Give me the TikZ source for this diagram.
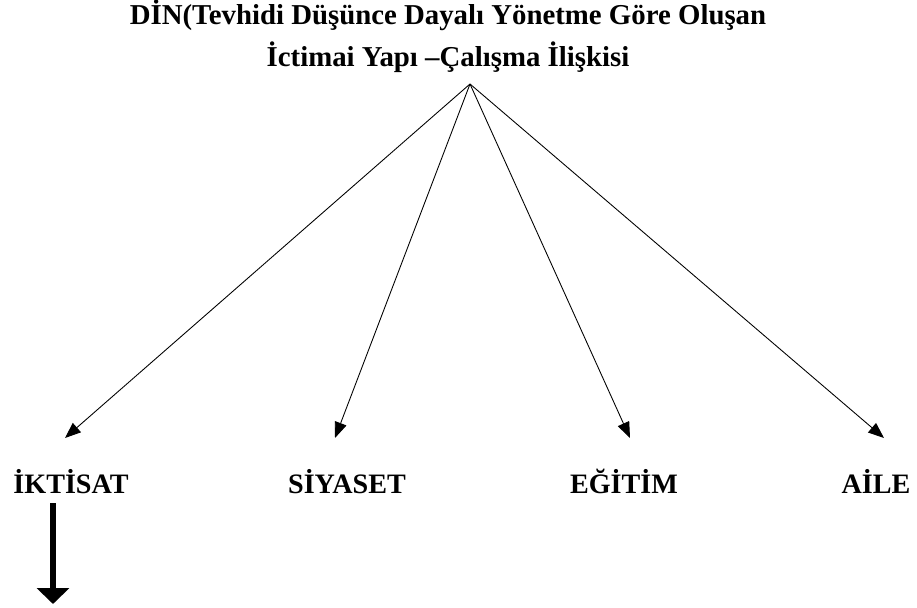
\documentclass[tikz,border=0pt]{standalone}
\usepackage{fontspec}
\setmainfont{Liberation Serif}
\usetikzlibrary{arrows.meta}

\begin{document}
\begin{tikzpicture}[x=0.02cm, y=-0.02cm,
  baslik/.style={anchor=base, font=\fontsize{16.4}{18}\selectfont\bfseries},
  alan/.style={anchor=base, font=\fontsize{16}{19}\selectfont\bfseries},
  ok/.style={-{Triangle[length=9pt, width=7pt]}, line width=0.5pt}]
\useasboundingbox (0,0) rectangle (917,608);

% Title
\node[baslik] (din) at (448, 25) {DİN(Tevhidi Düşünce Dayalı Yönetme Göre Oluşan};
\node[baslik] (ictimai) at (448, 67) {İctimai Yapı –Çalışma İlişkisi};
\coordinate (tepe) at (470, 84);

% Four fields
\node[alan] (iktisat) at (71, 493) {İKTİSAT};
\node[alan] (siyaset) at (347, 493) {SİYASET};
\node[alan] (egitim) at (624, 493) {EĞİTİM};
\node[alan] (aile) at (876, 493) {AİLE};

% Arrow tips
\coordinate (uc1) at (65, 438);
\coordinate (uc2) at (335, 438);
\coordinate (uc3) at (630, 438);
\coordinate (uc4) at (884, 438);

\draw[ok] (tepe) -- (uc1);
\draw[ok] (tepe) -- (uc2);
\draw[ok] (tepe) -- (uc3);
\draw[ok] (tepe) -- (uc4);

% Down arrow
\coordinate (asagi1) at (53, 503);
\coordinate (asagi2) at (53, 604);
\draw[line width=3.2pt, -{Triangle[length=9pt, width=18pt]}] (asagi1) -- (asagi2);
\end{tikzpicture}
\end{document}
